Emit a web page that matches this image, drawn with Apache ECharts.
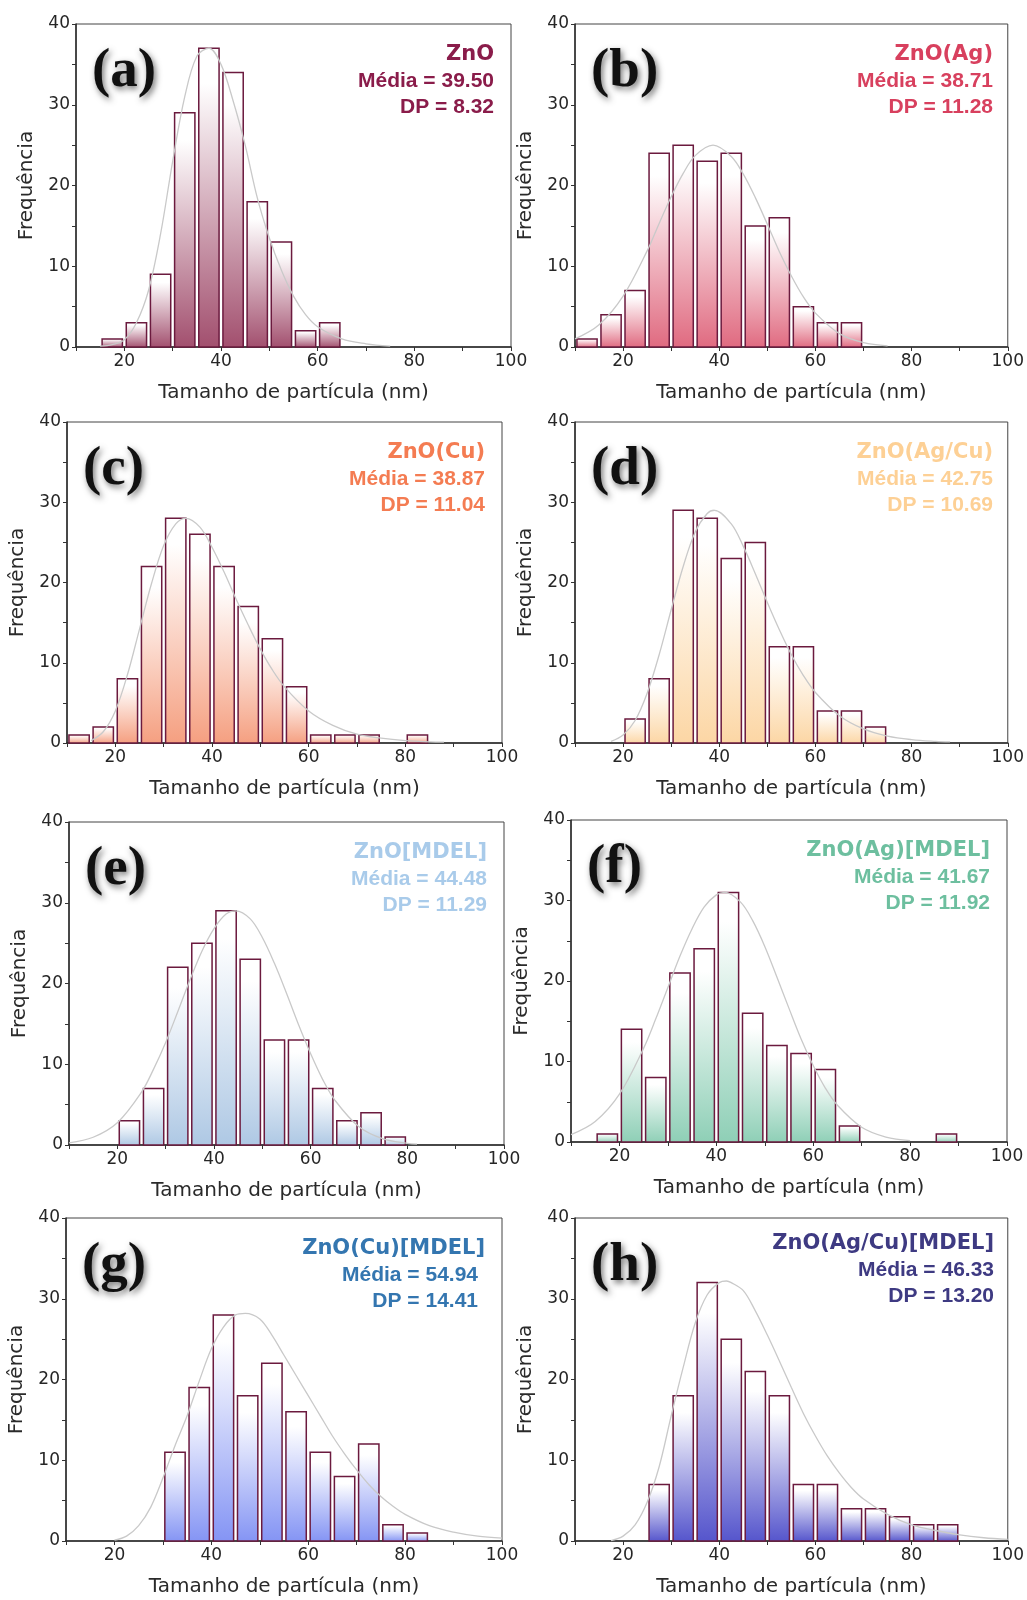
<!DOCTYPE html>
<html><head><meta charset="utf-8">
<script src="https://cdn.jsdelivr.net/npm/echarts@6/dist/echarts.min.js"></script>
<style>html,body{margin:0;padding:0;background:#fff}#c{width:1027px;height:1600px}</style>
</head><body><div id="c"></div>
<script>
const panelLetters = ['(a)','(b)','(c)','(d)','(e)','(f)','(g)','(h)'];
const sampleNames = ['ZnO','ZnO(Ag)','ZnO(Cu)','ZnO(Ag/Cu)','ZnO[MDEL]','ZnO(Ag)[MDEL]','ZnO(Cu)[MDEL]','ZnO(Ag/Cu)[MDEL]'];
const meanLabels = ['39.50','38.71','38.87','42.75','44.48','41.67','54.94','46.33'];
const sdLabels = ['8.32','11.28','11.04','10.69','11.29','11.92','14.41','13.20'];
const xTickLabels = [20,40,60,80,100];
const yTickLabels = [0,10,20,30,40];

const binsA = [15,20,25,30,35,40,45,50,55,60];
const countsA = [1,3,9,29,37,34,18,13,2,3];
const binsB = [10,15,20,25,30,35,40,45,50,55,60,65];
const countsB = [1,4,7,24,25,23,24,15,16,5,3,3];
const binsC = [10,15,20,25,30,35,40,45,50,55,60,65,70,80];
const countsC = [1,2,8,22,28,26,22,17,13,7,1,1,1,1];
const binsD = [20,25,30,35,40,45,50,55,60,65,70];
const countsD = [3,8,29,28,23,25,12,12,4,4,2];
const binsE = [20,25,30,35,40,45,50,55,60,65,70,75];
const countsE = [3,7,22,25,29,23,13,13,7,3,4,1];
const binsF = [15,20,25,30,35,40,45,50,55,60,65,85];
const countsF = [1,14,8,21,24,31,16,12,11,9,2,1];
const binsG = [30,35,40,45,50,55,60,65,70,75,80];
const countsG = [11,19,28,18,22,16,11,8,12,2,1];
const binsH = [25,30,35,40,45,50,55,60,65,70,75,80,85];
const countsH = [7,18,32,25,21,18,7,7,4,4,3,2,2];

const curveXA = [15,17.5,20,22.5,25,27.5,30,32.5,35,37.5,40,42.5,45,47.5,50,52.5,55,57.5,60,65,70,75];
const curveYA = [0.1,0.3,0.9,3,7,14,23,31,36,37,35,30.5,25,18.5,13.5,9.5,6.3,4,2.5,1,0.4,0.1];
const curveXB = [10,15,20,25,27.5,30,32.5,35,38.7,42.5,45,47.5,50,52.5,55,57.5,60,65,70,75];
const curveYB = [1.0,2.75,6.3,11.9,15.3,18.6,21.5,23.7,25,23.6,21.4,18.5,15.2,11.8,8.8,6.2,4.2,1.65,0.53,0.14];
const curveXC = [15,17.5,20,22.5,25,27.5,30,32.5,34.6,37.5,40,42.5,45,47.5,50,52.5,55,60,65,70,75,80,85,88];
const curveYC = [0.3,1.4,4.0,8.5,14.2,19.9,24.6,27.3,28,26.9,24.4,21.3,17.9,14.7,11.7,9.1,7.0,4.0,2.2,1.1,0.6,0.3,0.15,0.1];
const curveXD = [17.5,20,22.5,25,27.5,30,32.5,35,37.5,39,42.5,45,47.5,50,52.5,55,57.5,60,65,70,75,80,85,88];
const curveYD = [0.2,1.0,2.8,6.2,11,16.6,22,26.3,28.6,29,27.3,24.5,21.1,17.5,14.1,11.0,8.4,6.3,3.4,1.75,0.86,0.42,0.2,0.13];
const curveXE = [10,15,20,25,27.5,30,32.5,35,37.5,40,42.5,44.5,47.5,50,52.5,55,57.5,60,62.5,65,70,75,80,82];
const curveYE = [0.27,0.96,2.76,6.55,9.4,12.7,16.5,20.4,24.0,26.8,28.6,29,28.0,25.7,22.5,18.8,14.9,11.3,8.1,5.56,2.25,0.75,0.21,0.12];
const curveXF = [10,15,20,25,27.5,30,32.5,35,37.5,40,41.7,45,47.5,50,52.5,55,57.5,60,62.5,65,70,75,80];
const curveYF = [0.91,2.54,5.94,11.66,15.3,19.2,23.1,26.5,29.2,30.7,31,29.8,27.5,24.3,20.5,16.6,12.8,9.5,6.7,4.57,1.84,0.62,0.18];
const curveXG = [20,22.5,25,27.5,30,32.5,35,37.5,40,42.5,45,47,50,52.5,55,57.5,60,62.5,65,67.5,70,72.5,75,77.5,80,85,90,95,100];
const curveYG = [0.1,0.6,1.9,4.2,7.8,11.8,15.5,19.8,23.8,26.5,28,28.2,27.5,25.5,23,20.5,18,15.5,13,10.8,8.8,7,5.5,4.3,3.3,1.9,1.1,0.6,0.35];
const curveXH = [17.5,20,22.5,25,27.5,30,32.5,35,37.5,40,41.5,42.5,45,47.5,50,52.5,55,57.5,60,62.5,65,67.5,70,75,80,85,90,95,100];
const curveYH = [0.05,0.6,2,4.8,9.2,15.5,21.5,27,30.5,32,32.2,32,31,28.5,25.5,22.3,19,15.8,13,10.5,8.4,6.6,5.2,3.3,2.0,1.3,0.75,0.4,0.2];

const binsAll = [binsA,binsB,binsC,binsD,binsE,binsF,binsG,binsH];
const countsAll = [countsA,countsB,countsC,countsD,countsE,countsF,countsG,countsH];
const curveXAll = [curveXA,curveXB,curveXC,curveXD,curveXE,curveXF,curveXG,curveXH];
const curveYAll = [curveYA,curveYB,curveYC,curveYD,curveYE,curveYF,curveYG,curveYH];

const textColors = ['#8a1c4a','#d8405e','#f47c52','#fdd095','#a9cbea','#6dbf9f','#3476b0','#3e3a82'];
const barColors = ['#a24f6e','#e06a80','#f59f80','#fcd6a4','#aec8e4','#8ecfb6','#8494f4','#5555cc'];

const grids = [
  {left:76, top:24, width:435, height:323},
  {left:575, top:24, width:435, height:323},
  {left:67, top:422, width:435, height:321},
  {left:575, top:422, width:435, height:321},
  {left:69, top:822, width:435, height:323},
  {left:571, top:820, width:436, height:322},
  {left:66, top:1218, width:436, height:323},
  {left:575, top:1218, width:436, height:323}
];
const annoDy = [0,0,0,0,0,0,0,-5];
const annoDx2 = [0,0,0,0,0,0,-7,0];

const BIN = 5, GAP = 0.4;
const fam = '"DejaVu Sans", sans-serif';

const option = {
  animation: false,
  backgroundColor: '#fff',
  grid: [], xAxis: [], yAxis: [], series: [], graphic: []
};

grids.forEach((g, i) => {
  option.grid.push(Object.assign({show:true, borderColor:'#444', borderWidth:1, backgroundColor:'transparent', containLabel:false}, g));
  option.xAxis.push({
    type:'value', gridIndex:i, min:10, max:100, interval:10,
    axisLine:{show:true, onZero:false, lineStyle:{color:'#2a2a2a', width:1.5}},
    axisTick:{show:true, length:4, lineStyle:{color:'#333', width:1}},
    axisLabel:{formatter: v => xTickLabels.includes(v) ? String(v) : '', color:'#262626', fontSize:17, fontFamily:fam, margin:6},
    splitLine:{show:false},
    name:'Tamanho de partícula (nm)', nameLocation:'middle', nameGap:36,
    nameTextStyle:{fontSize:20, fontFamily:fam, color:'#2a2a2a'}
  });
  option.yAxis.push({
    type:'value', gridIndex:i, min:0, max:40, interval:5,
    axisLine:{show:true, onZero:false, lineStyle:{color:'#2a2a2a', width:1.5}},
    axisTick:{show:true, length:4, lineStyle:{color:'#333', width:1}},
    axisLabel:{formatter: v => yTickLabels.includes(v) ? String(v) : '', color:'#262626', fontSize:17, fontFamily:fam, margin:6},
    splitLine:{show:false},
    name:'Frequência', nameLocation:'middle', nameGap:39, nameRotate:90,
    nameTextStyle:{fontSize:20, fontFamily:fam, color:'#2a2a2a'}
  });
  const grad = new echarts.graphic.LinearGradient(0,0,0,1,[
    {offset:0, color:'#ffffff'},{offset:0.12, color:'#ffffff'},{offset:1, color:barColors[i]}]);
  option.series.push({
    type:'custom', xAxisIndex:i, yAxisIndex:i, z:2,
    data: binsAll[i].map((b, k) => [b, countsAll[i][k]]),
    renderItem: (params, api) => {
      const x0 = api.value(0), h = api.value(1);
      const p0 = api.coord([x0 + GAP, h]);
      const p1 = api.coord([x0 + BIN - GAP, 0]);
      return {type:'rect', shape:{x:p0[0], y:p0[1], width:p1[0]-p0[0], height:p1[1]-p0[1]},
        style:{fill:grad, stroke:'#6b1a3e', lineWidth:1.5}};
    }
  });
  option.series.push({
    type:'line', xAxisIndex:i, yAxisIndex:i, z:5, smooth:0.35, showSymbol:false, silent:true,
    data: curveXAll[i].map((x, k) => [x, curveYAll[i][k]]),
    lineStyle:{color:'#c9c9c9', width:1.3}
  });
  option.graphic.push({
    type:'text', x:g.left+16, y:g.top+48, z:100,
    style:{text:panelLetters[i], font:'bold 55px "Liberation Serif", serif', fill:'#111', verticalAlign:'middle',
      textShadowBlur:6, textShadowColor:'rgba(0,0,0,0.55)', textShadowOffsetX:2, textShadowOffsetY:3}
  });
  const rx = g.left + g.width - 17;
  const ty = g.top + 31 + annoDy[i];
  option.graphic.push({type:'text', x:rx, y:ty, z:100,
    style:{text:sampleNames[i], font:'bold 21px "DejaVu Sans", sans-serif', fill:textColors[i], align:'right', verticalAlign:'middle'}});
  option.graphic.push({type:'text', x:rx + annoDx2[i], y:ty+26, z:100,
    style:{text:'Média = ' + meanLabels[i], font:'bold 21px "Liberation Sans", Arial, sans-serif', fill:textColors[i], align:'right', verticalAlign:'middle'}});
  option.graphic.push({type:'text', x:rx + annoDx2[i], y:ty+52, z:100,
    style:{text:'DP = ' + sdLabels[i], font:'bold 21px "Liberation Sans", Arial, sans-serif', fill:textColors[i], align:'right', verticalAlign:'middle'}});
});

const chart = echarts.init(document.getElementById('c'), null, {renderer:'canvas'});
chart.setOption(option);
</script>
</body></html>
